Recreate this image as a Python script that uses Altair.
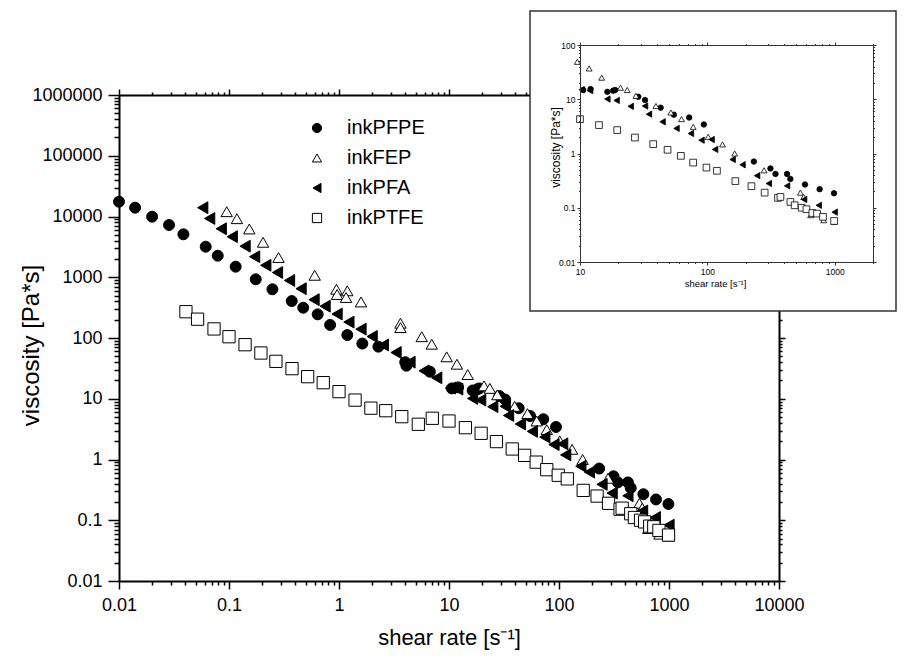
import altair as alt
import pandas as pd

SERIES = ["inkPFPE", "inkFEP", "inkPFA", "inkPTFE"]

pfpe_x = [0.01, 0.014, 0.02, 0.0285, 0.0385, 0.0614, 0.079, 0.115, 0.175, 0.248, 0.372, 0.473,
          0.64, 0.83, 1.19, 1.63, 2.28, 4.0, 4.1, 6.7, 10.6, 12.1, 16.4, 18.2, 18.9, 28.7, 32.4,
          43, 54.6, 72, 93.9, 232, 313, 343, 423, 449, 585, 762, 988]
pfpe_y = [17500, 13960, 9930, 7250, 5090, 3185, 2264, 1493, 925, 634, 406, 315,
          245, 164, 112, 81, 72, 40, 35, 27.9, 14.8, 15.4, 13.7, 14.4, 14.8, 11.1, 9.7,
          7.0, 5.2, 4.6, 3.43, 0.71, 0.53, 0.42, 0.42, 0.34, 0.268, 0.22, 0.185]

fep_x = [0.0953, 0.118, 0.153, 0.204, 0.282, 0.601, 0.948, 1.19, 0.96, 1.16, 1.585, 3.62, 3.62,
         5.65, 6.97, 9.53, 11.8, 14.8, 20.8, 23.5, 27.5, 39.5, 51.7, 62.7, 77.4, 101.5, 131.5,
         164, 279, 538, 571, 648, 820, 990]
fep_y = [12000, 9200, 6230, 3760, 2115, 1077, 634, 598, 520, 464, 392, 175, 148,
         105, 79, 49, 37, 25, 16.3, 14.8, 11.6, 7.5, 5.7, 4.3, 3.1, 2.03, 1.47,
         1.0, 0.49, 0.19, 0.158, 0.073, 0.059, 0.055]

pfa_x = [0.0577, 0.0667, 0.085, 0.107, 0.14, 0.171, 0.216, 0.276, 0.355, 0.452, 0.593, 0.747,
         0.96, 1.23, 1.585, 2.0, 2.53, 3.3, 4.42, 5.93, 7.73, 10.3, 12, 16.4, 19.4, 25, 32.4,
         34.8, 44.5, 57.3, 74.3, 90, 108, 115, 158, 189, 246, 304, 423, 575, 750, 1000]
pfa_y = [13960, 9270, 6280, 4650, 3245, 2180, 1574, 1197, 885, 648, 427, 334,
         248, 183, 140, 106, 76.7, 57.7, 40, 28.8, 22.1, 15, 14.4, 10.1, 9.5, 7.4, 7.5,
         5.3, 3.84, 2.9, 2.34, 1.76, 1.81, 1.19, 0.775, 0.62, 0.39, 0.28, 0.253, 0.142, 0.111, 0.083]

ptfe_x = [0.0406, 0.0518, 0.0731, 0.1, 0.14, 0.195, 0.267, 0.374, 0.519, 0.719, 1.0, 1.4, 1.95,
          2.66, 3.72, 5.26, 7.05, 10, 14.1, 19.6, 27, 37.6, 48.7, 62, 77.4, 98.4, 119, 166, 222,
          282, 359, 375, 449, 485, 551, 600, 668, 727, 810, 990]
ptfe_y = [271, 204, 141, 105, 77.6, 56.6, 41.3, 31.3, 23.1, 18.4, 13.1, 9.5, 7.0,
          6.36, 5.07, 3.8, 4.77, 4.3, 3.34, 2.7, 1.97, 1.49, 1.17, 0.905, 0.68, 0.55, 0.48, 0.31, 0.25,
          0.19, 0.152, 0.158, 0.128, 0.111, 0.1, 0.094, 0.08, 0.078, 0.068, 0.057]

SHAPES = ["circle", "triangle-up", "triangle-left", "square"]
FILLS = ["black", "white", "black", "white"]
STROKES = ["black", "black", "black", "black"]
MAIN_SIZES = [120, 150, 125, 90]
INSET_SIZES = [30, 45, 36, 28]

main_x_ticks = [float(f"{k}e{e}") for e in range(-2, 4) for k in range(1, 10)] + [1e4]
main_y_ticks = [float(f"{k}e{e}") for e in range(-2, 6) for k in range(1, 10)] + [1e6]
inset_x_ticks = [float(f"{k}e{e}") for e in range(1, 3) for k in range(1, 10)] + [1e3, 2e3]
inset_y_ticks = [float(f"{k}e{e}") for e in range(-2, 2) for k in range(1, 10)] + [1e2]

rows = []
for name, xs, ys in [("inkPFPE", pfpe_x, pfpe_y), ("inkFEP", fep_x, fep_y),
                     ("inkPFA", pfa_x, pfa_y), ("inkPTFE", ptfe_x, ptfe_y)]:
    for a, b in zip(xs, ys):
        rows.append({"series": name, "x": a, "y": b})
df = pd.DataFrame(rows)

F = "Liberation Sans"
W, H = 660, 486
MAJOR = "abs(log(datum.value)/LN10 - round(log(datum.value)/LN10)) < 0.001"
LABEL = f"({MAJOR}) ? toString(datum.value) : ''"


def tsize(major, minor):
    return {"condition": {"test": MAJOR, "value": major}, "value": minor}


def axis(orient, values, major, minor, font, dw, color, z, offset=0, labels=True, pad=4,
         title=None, tfont=12, tx=0, ty=0):
    kw = dict(orient=orient, values=values, labelExpr=LABEL, labels=labels,
              tickSize=tsize(major, minor), tickWidth=max(1, dw - 0.5), tickColor=color,
              domainWidth=dw, domainColor=color, labelFont=F, labelFontSize=font,
              labelColor="black", labelPadding=pad, labelFlush=False, labelOverlap=False,
              grid=False, zindex=z, offset=offset)
    if title:
        kw.update(title=title, titleFont=F, titleFontSize=tfont, titleFontWeight="normal",
                  titleColor="black", titleX=tx, titleY=ty, titleBaseline="middle",
                  titleAlign="center")
        if orient in ("left", "right"):
            kw.update(titleAngle=270)
    else:
        kw.update(title=None)
    return alt.Axis(**kw)


main_xs = alt.Scale(type="log", domain=[0.01, 10000], nice=False)
main_ys = alt.Scale(type="log", domain=[0.01, 1e6], nice=False)
IX0, IX1, IY0, IY1 = 461, 754, 167, -50
inset_xs = alt.Scale(type="log", domain=[10, 2000], nice=False, range=[IX0, IX1])
inset_ys = alt.Scale(type="log", domain=[0.01, 100], nice=False, range=[IY0, IY1])

legend = alt.Legend(orient="none", legendX=188, legendY=23, title=None, labelFont=F,
                    labelFontSize=20, labelColor="black", symbolSize=85,
                    symbolStrokeWidth=1, rowPadding=10,
                    labelOffset=20, padding=0)

shape_enc = alt.Shape("series:N", scale=alt.Scale(domain=SERIES, range=SHAPES), legend=legend)
fill_enc = alt.Fill("series:N", scale=alt.Scale(domain=SERIES, range=FILLS), legend=legend)
stroke_enc = alt.Stroke("series:N", scale=alt.Scale(domain=SERIES, range=STROKES), legend=legend)

main_mirror = alt.Chart(df).mark_point(opacity=0).encode(
    x=alt.X("x:Q", scale=main_xs, axis=axis("top", main_x_ticks, 6, 3, 18, 2, "black", 0, labels=False)),
    y=alt.Y("y:Q", scale=main_ys, axis=axis("right", main_y_ticks, 6, 3, 18, 2, "black", 0, labels=False)),
)

main_points = alt.Chart(df).mark_point(strokeWidth=1, opacity=1).encode(
    x=alt.X("x:Q", scale=main_xs,
            axis=axis("bottom", main_x_ticks, 8, 4, 18, 2, "black", 0, pad=7,
                      title="shear rate [s⁻¹]", tfont=22, tx=W / 2, ty=56)),
    y=alt.Y("y:Q", scale=main_ys,
            axis=axis("left", main_y_ticks, 11, 5, 18, 2, "black", 0, pad=6,
                      title="viscosity [Pa*s]", tfont=24, tx=-88, ty=250)),
    shape=shape_enc,
    fill=fill_enc,
    stroke=stroke_enc,
    size=alt.Size("series:N", scale=alt.Scale(domain=SERIES, range=MAIN_SIZES), legend=None),
)

frame = alt.Chart(pd.DataFrame({"a": [0]})).mark_rect(
    fill="white", stroke="#333333", strokeWidth=1.5
).encode(x=alt.value(411), x2=alt.value(777), y=alt.value(-84), y2=alt.value(216))

inset_mirror = alt.Chart(df).transform_filter("datum.x >= 9.5").mark_point(opacity=0).encode(
    x=alt.X("x:Q", scale=inset_xs,
            axis=axis("top", inset_x_ticks, 3, 1.5, 8, 1, "#333333", 1, offset=-IY1, labels=False)),
    y=alt.Y("y:Q", scale=inset_ys,
            axis=axis("right", inset_y_ticks, 3, 1.5, 8, 1, "#333333", 1, offset=IX1 - W, labels=False)),
)

inset_points = alt.Chart(df).transform_filter("datum.x >= 9.5").mark_point(
    strokeWidth=0.8, opacity=1
).encode(
    x=alt.X("x:Q", scale=inset_xs,
            axis=axis("bottom", inset_x_ticks, 3, 1.5, 8.5, 1, "#333333", 1, offset=IY0 - H, pad=2,
                      title="shear rate [s⁻¹]", tfont=9.5, tx=596, ty=21)),
    y=alt.Y("y:Q", scale=inset_ys,
            axis=axis("left", inset_y_ticks, 3, 1.5, 8.5, 1, "#333333", 1, offset=-IX0, pad=2,
                      title="viscosity [Pa*s]", tfont=12, tx=-25, ty=52)),
    shape=alt.Shape("series:N", scale=alt.Scale(domain=SERIES, range=SHAPES), legend=None),
    fill=alt.Fill("series:N", scale=alt.Scale(domain=SERIES, range=FILLS), legend=None),
    stroke=alt.Stroke("series:N", scale=alt.Scale(domain=SERIES, range=STROKES), legend=None),
    size=alt.Size("series:N", scale=alt.Scale(domain=SERIES, range=INSET_SIZES), legend=None),
)

chart = alt.layer(main_mirror, main_points, frame, inset_mirror, inset_points).resolve_scale(
    x="independent", y="independent", size="independent"
).properties(
    width=W, height=H,
    padding={"left": 111, "top": 87, "right": 118, "bottom": 70},
    autosize=alt.AutoSizeParams(type="none"),
).configure_view(strokeWidth=0)

chart.save("out.html", embed_options={"renderer": "svg", "actions": False})
